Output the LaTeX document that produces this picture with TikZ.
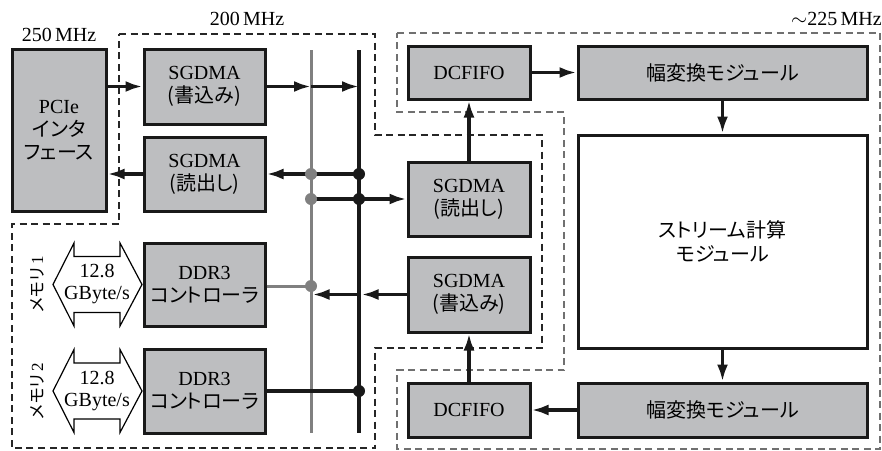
\documentclass[tikz,border=0pt]{standalone}
\usepackage{fontspec}
\setmainfont{Liberation Serif}
\newfontfamily\jp[RawFeature=+palt]{Noto Sans CJK JP}
\usetikzlibrary{arrows.meta}
\definecolor{boxfill}{RGB}{189,190,192}
\definecolor{lgray}{RGB}{128,128,128}
\definecolor{dgray}{RGB}{112,112,112}
\begin{document}
\begin{tikzpicture}[x=1pt,y=-1pt,
  blk/.style={draw=black!90, line width=3pt, fill=boxfill, inner sep=0pt, align=center,
              font=\fontsize{20}{23}\selectfont},
  arr/.style={line width=3.3pt, draw=black!90, -{Latex[length=17pt,width=11pt]}},
  ln/.style={line width=3.3pt, draw=black!90},
  gln/.style={line width=3pt, draw=lgray},
  kdash/.style={line width=2.4pt, draw=black!85, dash pattern=on 7pt off 4.5pt},
  gdash/.style={line width=2pt, draw=dgray, dash pattern=on 7pt off 4.5pt},
  lbl/.style={font=\fontsize{20}{23}\selectfont, inner sep=0pt},
  dbl/.style={line width=1.2pt, fill=white},
  kdot/.style={fill=black!90},
  gdot/.style={fill=lgray}]
\useasboundingbox (0,0) rectangle (882,450);

% clock-domain borders
\draw[kdash] (119,34) -- (375,34) -- (375,135) -- (542,135) -- (542,348) -- (375,348)
  -- (375,448) -- (12,448) -- (12,224) -- (119,224) -- cycle;
\draw[gdash] (397,33) -- (880,33) -- (880,449) -- (397,449) -- (397,370) -- (564,370)
  -- (564,112) -- (397,112) -- cycle;

\node[lbl] (f250) at (59,35) {250\,MHz};
\node[lbl] (f200) at (247,19) {200\,MHz};
\node[lbl, anchor=east] (f225) at (882,19) {$\sim$225\,MHz};

% boxes
\node[blk, minimum width=94pt, minimum height=162pt] (pcie) at (59,130) {PCIe\\{\jp インタ}\\{\jp フェース}};
\node[blk, minimum width=121pt, minimum height=75pt] (sgwL) at (204.5,86.5) {SGDMA\\{\jp (書込み)}};
\node[blk, minimum width=121pt, minimum height=74pt] (sgrL) at (204.5,174) {SGDMA\\{\jp (読出し)}};
\node[blk, minimum width=121pt, minimum height=83pt] (ddr1) at (204.5,284.5) {DDR3\\{\jp コントローラ}};
\node[blk, minimum width=121pt, minimum height=84pt] (ddr2) at (204.5,391) {DDR3\\{\jp コントローラ}};
\node[blk, minimum width=122pt, minimum height=53pt] (fifo1) at (469,72.5) {DCFIFO};
\node[blk, minimum width=289pt, minimum height=53pt] (wid1) at (722.5,72.5) {\jp 幅変換モジュール};
\node[blk, minimum width=122pt, minimum height=74pt] (sgrR) at (469,199) {SGDMA\\{\jp (読出し)}};
\node[blk, minimum width=122pt, minimum height=75pt] (sgwR) at (469,294.5) {SGDMA\\{\jp (書込み)}};
\node[blk, fill=white, minimum width=289pt, minimum height=213pt, font=\fontsize{20}{24}\selectfont] (strm) at (722.5,241.5) {\jp ストリーム計算\\\jp モジュール};
\node[blk, minimum width=122pt, minimum height=54pt] (fifo2) at (469,410) {DCFIFO};
\node[blk, minimum width=289pt, minimum height=54pt] (wid2) at (722.5,410) {\jp 幅変換モジュール};

% memory double arrows
\foreach \c/\n/\m in {284.5/bw1/1, 391/bw2/2}{
  \draw[dbl] (53,\c) -- (74,\c-41.5) -- (74,\c-28) -- (120,\c-28) -- (120,\c-41.5) -- (142,\c)
    -- (120,\c+41.5) -- (120,\c+28) -- (74,\c+28) -- (74,\c+41.5) -- cycle;
  \node[lbl, align=center, font=\fontsize{20}{22}\selectfont] (\n) at (97,\c) {12.8\\GByte/s};
  \node[lbl, rotate=90, font=\fontsize{17}{20}\selectfont] (mem\m) at (37,\c) {{\jp メモリ}\,\m};
}

% buses
\coordinate (gT) at (311,50); \coordinate (gB) at (311,433);
\coordinate (kT) at (359,50); \coordinate (kB) at (359,433);
\draw[gln] (gT) -- (gB);
\draw[ln] (kT) -- (kB);

% connectors
\draw[arr] (pcie.east |- sgwL.east) -- (sgwL.west);
\draw[arr] (sgwL.east) -- (sgwL.east -| gT);
\draw[arr] (sgwL.east -| gT) -- (sgwL.east -| kT);
\draw[arr] (sgrL.east -| kT) -- (sgrL.east);
\draw[arr] (sgrL.west) -- (sgrL.west -| pcie.east);
\draw[arr] (sgrR.west -| gT) -- (sgrR.west);
\draw[arr] (sgrR.north) -- (fifo1.south);
\draw[arr] (fifo1.east) -- (wid1.west);
\draw[arr] (wid1.south) -- (strm.north);
\draw[arr] (strm.south) -- (wid2.north);
\draw[arr] (wid2.west) -- (fifo2.east);
\draw[arr] (fifo2.north) -- (sgwR.south);
\draw[arr] (sgwR.west) -- ([xshift=2.5pt]sgwR.west -| kT);
\draw[arr] (sgwR.west -| kT) -- ([xshift=1.5pt]sgwR.west -| gT);
\draw[gln] ([yshift=-1.5pt]ddr1.east) -- ([yshift=-1.5pt]ddr1.east -| gT);
\draw[ln] (ddr2.east) -- (ddr2.east -| kT);

% junction dots
\fill[gdot] (sgrL.east -| gT) circle (6pt);
\fill[gdot] (sgrR.west -| gT) circle (6pt);
\fill[gdot] ([yshift=-1.5pt]ddr1.east -| gT) circle (6pt);
\fill[kdot] (sgrL.east -| kT) circle (6pt);
\fill[kdot] (sgrR.west -| kT) circle (6pt);
\fill[kdot] (ddr2.east -| kT) circle (6pt);
\end{tikzpicture}
\end{document}
